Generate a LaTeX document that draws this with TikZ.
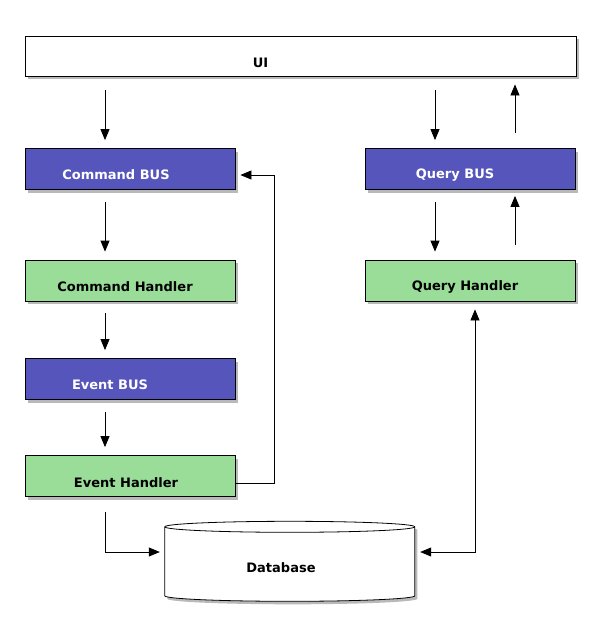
\documentclass[tikz,border=0pt]{standalone}
\usepackage{fontspec}
\setmainfont{DejaVu Sans}
\usepackage{tikz}
\usetikzlibrary{
arrows.meta,
shadows
}
\definecolor{CQRSBlue}{HTML}{5555BB}
\definecolor{CQRSGreen}{HTML}{99DD99}
\definecolor{CQRSShadow}{HTML}{808080}
\newcommand{\cqrsdrum}{++(0,6) -- ++(0,69) arc[start angle=180, end angle=360, x radius=125pt, y radius=5.5pt]
  -- ++(0,-69) arc[start angle=0, end angle=180, x radius=125pt, y radius=5.5pt] -- cycle}
\tikzset{
cqrsbox/.style={draw=black, line width=0.8pt, minimum width=210pt, minimum height=41pt,
  inner sep=0pt, drop shadow={shadow xshift=2.5pt, shadow yshift=-3pt, fill=CQRSShadow, opacity=0.55}},
cqrsbus/.style={cqrsbox, fill=CQRSBlue},
cqrshandler/.style={cqrsbox, fill=CQRSGreen},
cqrsui/.style={cqrsbox, fill=white, minimum width=551pt, minimum height=40pt},
cqrsdb/.style={minimum width=250pt, minimum height=81pt, inner sep=0pt},
cqrsline/.style={draw=black, line width=0.8pt},
cqrstext/.style={font=\bfseries\fontsize{13}{15}\selectfont, text=black},
cqrswhite/.style={cqrstext, text=white},
cqrsarrow/.style={-{Triangle[length=11pt,width=9pt]}, line width=0.8pt, shorten <=12pt, shorten >=8pt},
cqrsboth/.style={{Triangle[length=11pt,width=9pt]}-{Triangle[length=11pt,width=9pt]},
  line width=0.8pt, shorten <=8pt, shorten >=5pt}
}
\begin{document}
\begin{tikzpicture}[x=1pt, y=-1pt]
\useasboundingbox[fill=white] (0,0) rectangle (600,630);
\node[cqrsui, label={[cqrstext, xshift=-40pt, yshift=-7pt]center:UI}] (ui) at (300.5,56) {};
\node[cqrsbus, label={[cqrswhite, xshift=-14pt, yshift=-6pt]center:Command BUS}] (cbus) at (130,169) {};
\node[cqrshandler, label={[cqrstext, xshift=-5pt, yshift=-6.5pt]center:Command Handler}] (chandler) at (130,280.5) {};
\node[cqrsbus, label={[cqrswhite, xshift=-20pt, yshift=-6pt]center:Event BUS}] (ebus) at (130,379) {};
\node[cqrshandler, label={[cqrstext, xshift=-4pt, yshift=-7pt]center:Event Handler}] (ehandler) at (130,476) {};
\node[cqrsbus, label={[cqrswhite, xshift=-15.5pt, yshift=-6pt]center:Query BUS}] (qbus) at (470.5,169) {};
\node[cqrshandler, label={[cqrstext, xshift=-5.5pt, yshift=-6.5pt]center:Query Handler}] (qhandler) at (470.5,280.5) {};
\node[cqrsdb] (db) at (290,561.5) {};
\fill[CQRSShadow, opacity=0.55] ([xshift=2.5pt, yshift=-3pt]db.north west) \cqrsdrum;
\draw[cqrsline, fill=white] (db.north west) \cqrsdrum;
\draw[cqrsline] ([yshift=-6pt]db.north west) arc[start angle=180, end angle=360, x radius=125pt, y radius=5.5pt];
\node[cqrstext] (dblabel) at ([xshift=-9pt, yshift=-6pt]db.center) {Database};

\draw[cqrsarrow, shorten <=14pt] ([xshift=-25pt]cbus.north |- ui.south) -- ([xshift=-25pt]cbus.north);
\draw[cqrsarrow] ([xshift=-25pt]cbus.south) -- ([xshift=-25pt]chandler.north);
\draw[cqrsarrow] ([xshift=-25pt]chandler.south) -- ([xshift=-25pt]ebus.north);
\draw[cqrsarrow] ([xshift=-25pt]ebus.south) -- ([xshift=-25pt]ehandler.north);
\draw[cqrsarrow, shorten <=15pt, shorten >=5pt] ([xshift=-25pt]ehandler.south) |- ([yshift=9.5pt]db.west);
\draw[cqrsarrow, shorten <=0pt, shorten >=5pt] ([yshift=-7pt]ehandler.east) -- ++(39,0) |- ([yshift=-6pt]cbus.east);

\draw[cqrsarrow, shorten <=14pt] ([xshift=-35.5pt]qbus.north |- ui.south) -- ([xshift=-35.5pt]qbus.north);
\draw[cqrsarrow, shorten <=15pt] ([xshift=44.5pt]qbus.north) -- ([xshift=44.5pt]qbus.north |- ui.south);
\draw[cqrsarrow] ([xshift=-35.5pt]qbus.south) -- ([xshift=-35.5pt]qhandler.north);
\draw[cqrsarrow, shorten <=15pt, shorten >=6pt] ([xshift=44.5pt]qhandler.north) -- ([xshift=44.5pt]qbus.south);
\draw[cqrsboth] ([xshift=4.5pt]qhandler.south) |- ([yshift=9.5pt]db.east);
\end{tikzpicture}
\end{document}
